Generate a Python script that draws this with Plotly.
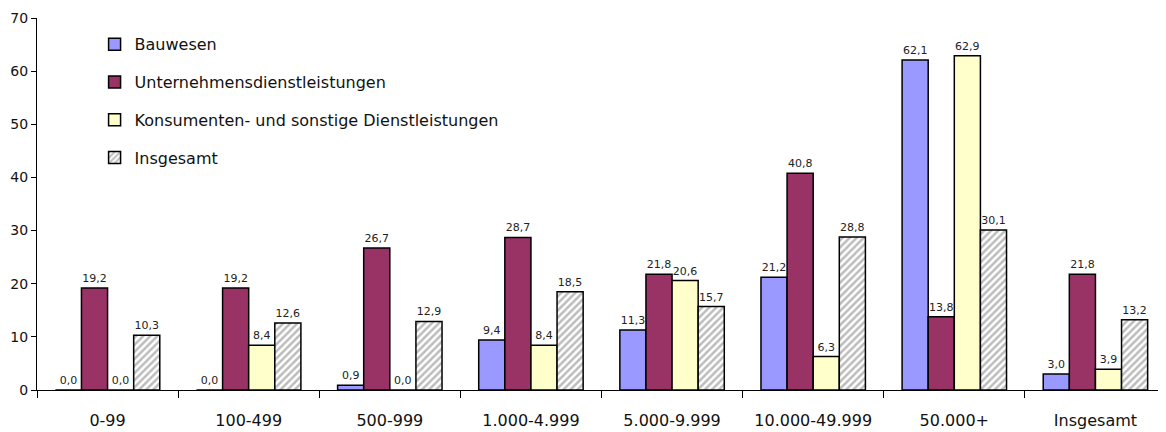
import plotly.graph_objects as go

kategorien = ["0-99", "100-499", "500-999", "1.000-4.999", "5.000-9.999",
              "10.000-49.999", "50.000+", "Insgesamt"]

bauwesen = [0.0, 0.0, 0.9, 9.4, 11.3, 21.2, 62.1, 3.0]
unternehmensdl = [19.2, 19.2, 26.7, 28.7, 21.8, 40.8, 13.8, 21.8]
konsumentendl = [0.0, 8.4, 0.0, 8.4, 20.6, 6.3, 62.9, 3.9]
insgesamt = [10.3, 12.6, 12.9, 18.5, 15.7, 28.8, 30.1, 13.2]

schrift = "Century Gothic, DejaVu Sans, sans-serif"

serien = [
    ("Bauwesen", bauwesen, dict(color="#9999FF")),
    ("Unternehmensdienstleistungen", unternehmensdl, dict(color="#993366")),
    ("Konsumenten- und sonstige Dienstleistungen", konsumentendl, dict(color="#FFFFCC")),
    ("Insgesamt", insgesamt, dict(color="white",
                                  pattern=dict(shape="/", fgcolor="#7a7a7a", bgcolor="white",
                                               size=5, solidity=0.5))),
]

fig = go.Figure()
for i, (name, werte, farbe) in enumerate(serien):
    fig.add_trace(go.Bar(
        x=kategorien, y=werte, name=name,
        marker=dict(**farbe, line=dict(color="black", width=1.5)),
        texttemplate="%{y:.1f}", textposition="outside",
        textfont=dict(size=11, color="#222"),
        cliponaxis=False,
        legendgroup=f"g{i}",
    ))

# die Seite hat 8px Rand (body margin), daher etwas kleiner
fig.update_layout(
    width=1158, height=424,
    margin=dict(l=29, r=0, t=10, b=42, autoexpand=False),
    barmode="group", bargap=0.26, bargroupgap=0,
    separators=",.",
    plot_bgcolor="white", paper_bgcolor="white",
    font=dict(family=schrift, size=14, color="#111"),
    legend=dict(x=0.051, y=0.975, xanchor="left", yanchor="top",
                traceorder="grouped", tracegroupgap=14,
                font=dict(size=16), bgcolor="rgba(0,0,0,0)",
                itemwidth=30),
    showlegend=True,
)
fig.update_xaxes(
    showline=True, linecolor="black", linewidth=1,
    ticks="outside", tickson="boundaries", ticklen=7, tickcolor="black",
    tickfont=dict(size=16), showgrid=False, automargin=False,
    ticklabelstandoff=16,
)
fig.update_yaxes(
    range=[0, 70], dtick=10, showline=True, linecolor="black", linewidth=1,
    ticks="outside", ticklen=5, tickcolor="black", showgrid=False,
    zeroline=False, tickfont=dict(size=14), automargin=False,
)

fig.write_html("out.html")
